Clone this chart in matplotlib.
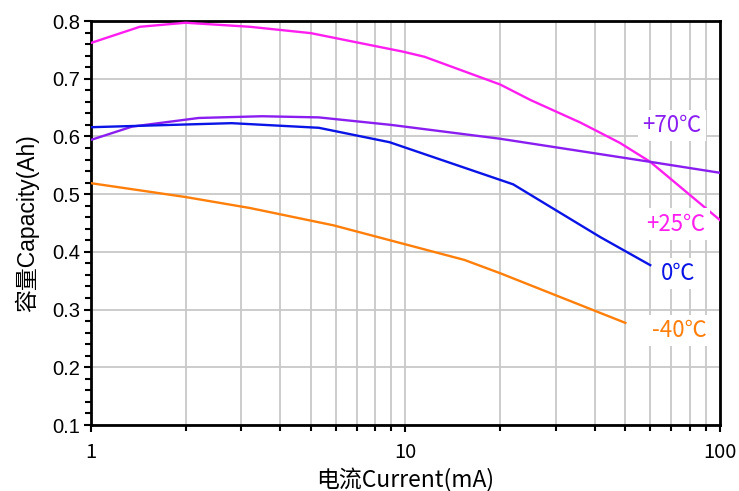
import matplotlib.pyplot as plt
from matplotlib.ticker import LogLocator, FixedLocator, MultipleLocator, NullFormatter

# values
cur_25 = [1, 1.43, 2.0, 3.2, 5.0, 9.8, 11.5, 20, 25, 36, 48, 60, 100]
cap_25 = [0.762, 0.790, 0.797, 0.790, 0.779, 0.747, 0.738, 0.690, 0.663, 0.624, 0.589, 0.556, 0.455]
cur_70 = [1, 1.35, 2.2, 3.5, 5.3, 9.0, 20, 60, 100]
cap_70 = [0.594, 0.617, 0.632, 0.635, 0.633, 0.620, 0.596, 0.556, 0.537]
cur_0 = [1, 2.8, 5.3, 8.9, 22, 41.5, 60]
cap_0 = [0.616, 0.623, 0.615, 0.590, 0.517, 0.426, 0.377]
cur_m40 = [1, 2.0, 3.2, 5.9, 15.4, 20, 50]
cap_m40 = [0.519, 0.495, 0.476, 0.446, 0.386, 0.363, 0.277]

labels = ['+70℃', '+25℃', '0℃', '-40℃']
label_x = [70.5, 72.5, 73.5, 74.5]
label_y = [0.619, 0.448, 0.363, 0.264]
colors = ['#8a1ef0', '#ff1ef0', '#0a14e6', '#ff7f0a']

cjk = ['Noto Sans CJK SC', 'DejaVu Sans']
plt.rcParams['font.family'] = ['Liberation Sans', 'Noto Sans CJK SC', 'DejaVu Sans']

fig = plt.figure(figsize=(7.39, 4.91), dpi=100)
ax = fig.add_axes([0.1231, 0.1344, 0.8512, 0.8228])

ax.plot(cur_25, cap_25, color=colors[1], lw=1.7, zorder=3)
ax.plot(cur_70, cap_70, color=colors[0], lw=1.7, zorder=3)
ax.plot(cur_0, cap_0, color=colors[2], lw=1.7, zorder=3)
ax.plot(cur_m40, cap_m40, color=colors[3], lw=1.7, zorder=3)

for t, x, y, c in zip(labels, label_x, label_y, colors):
    ax.text(x, y, t, color=c, fontsize=16, ha='center', va='center',
            family=cjk, zorder=4,
            bbox=dict(facecolor='white', edgecolor='none', pad=3))

ax.set_xscale('log')
ax.set_xlim(1, 100)
ax.set_ylim(0.1, 0.8)
ax.xaxis.set_major_locator(FixedLocator([1, 10, 100]))
ax.set_xticklabels(['1', '10', '100'], family=cjk, fontsize=14.5)
ax.xaxis.set_minor_locator(LogLocator(base=10, subs=range(2, 10)))
ax.xaxis.set_minor_formatter(NullFormatter())
ax.yaxis.set_major_locator(MultipleLocator(0.1))
ax.yaxis.set_minor_locator(MultipleLocator(0.02))
ax.set_yticklabels([f'{v:.1f}' for v in ax.get_yticks()], fontsize=14.5)

ax.grid(True, which='major', color='#c8c8c8', lw=1.3, zorder=0)
ax.grid(True, which='minor', axis='x', color='#c8c8c8', lw=1.3, zorder=0)
ax.set_axisbelow(True)

for s in ax.spines.values():
    s.set_linewidth(2)
    s.set_color('black')
ax.tick_params(axis='both', which='major', width=1.5, length=5, direction='out', color='black')
ax.tick_params(axis='x', which='major', pad=7)
ax.tick_params(axis='y', which='major', pad=3)
ax.tick_params(axis='both', which='minor', width=1.5, length=4, direction='out', color='black')

ax.set_xlabel('电流Current(mA)', fontsize=16.5, family=cjk, labelpad=4)
ax.set_ylabel('容量Capacity(Ah)', fontsize=16.5, labelpad=9)

fig.savefig('out.png', dpi=100)
